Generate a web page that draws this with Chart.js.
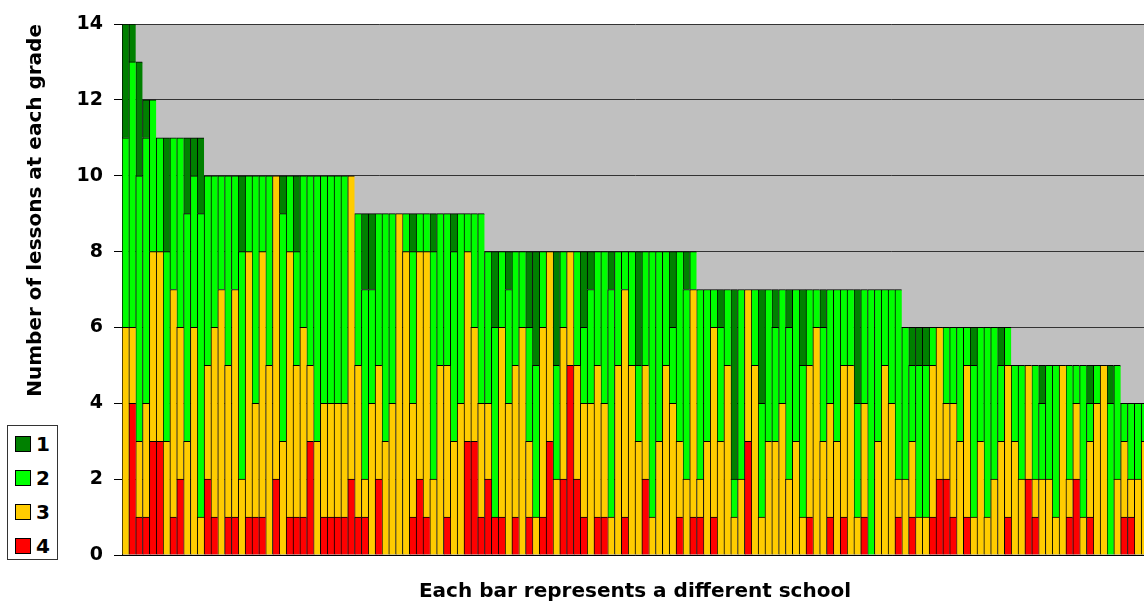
<!DOCTYPE html>
<html>
<head>
<meta charset="utf-8">
<script src="https://cdn.jsdelivr.net/npm/chart.js@4"></script>
<style>
  html, body { margin: 0; padding: 0; background: #fff; overflow: hidden; }
  #wrap { position: relative; width: 1150px; height: 604px; }
  #chart { display: block; }
  #legend {
    position: absolute; left: 7px; top: 425px; width: 51px; height: 135px;
    box-sizing: border-box; border: 1px solid #333; background: #fff;
    padding-top: 1px; font: bold 20px "DejaVu Sans", sans-serif; color: #000;
  }
  .item { height: 34px; display: flex; align-items: center; }
  .swatch { width: 14px; height: 14px; border: 1px solid #000; margin-left: 7px; margin-right: 5px; }
</style>
</head>
<body>
<div id="wrap">
  <canvas id="chart" width="1150" height="604"></canvas>
  <div id="legend"></div>
</div>
<script>
// lessons per school, by grade (1 = best). schools sorted by total
const grade1 = [
  3,1,3,1,0,0,3,0,0,2, 1,2,0,0,0,0,0,2,0,0, 0,0,0,1,0,2,0,0,0,0,
  0,0,0,0,0,2,2,0,0,0, 0,0,1,0,0,1,0,0,1,0, 0,0,0,0,2,0,1,0,0,2,
  3,0,0,3,0,0,0,2,1,0, 0,1,0,0,0,3,0,0,0,0, 2,0,1,0,0,0,0,1,0,5,
  0,0,0,3,0,1,0,1,0,2, 0,0,1,0,0,0,0,3,0,0, 0,0,0,0,0,1,1,1,0,0,
  0,0,0,0,1,0,0,0,1,0, 0,0,0,0,1,0,0,0,0,0, 0,1,0,0,1,0,0,0,0,0
];
const grade2 = [
  5,7,7,7,4,3,5,4,5,6, 4,8,5,4,3,5,3,6,2,6, 2,5,0,6,2,3,4,5,7,6,
  6,6,6,0,4,5,3,4,6,5, 0,1,4,1,1,6,4,4,5,5, 1,3,5,4,5,2,3,3,2,3,
  4,2,0,3,2,0,3,2,3,3, 4,6,3,1,3,2,3,7,5,3, 2,5,5,1,5,4,1,3,2,1,
  5,0,2,3,4,3,3,4,4,4, 2,1,3,3,4,2,2,3,3,7, 4,2,3,5,4,2,4,4,1,0,
  2,2,3,1,4,3,5,4,2,1, 2,3,0,3,2,3,4,0,3,1, 4,1,1,0,4,3,1,2,2,1
];
const grade3 = [
  6,2,2,3,5,5,3,6,4,3, 6,1,3,5,7,4,6,2,7,3, 7,5,8,3,7,4,5,2,3,3,
  3,3,3,8,4,1,4,3,3,4, 9,8,3,6,7,2,5,4,3,4, 5,3,3,2,0,5,4,4,6,2,
  1,5,5,2,4,3,3,3,4,4, 3,1,5,6,5,3,3,1,3,5, 4,2,2,6,1,3,5,3,5,1,
  2,4,5,1,3,3,4,2,3,1, 4,6,3,3,3,4,5,1,3,0, 3,5,4,1,2,2,1,1,4,4,
  2,3,3,4,1,3,1,2,3,4, 3,2,3,1,2,2,1,5,1,2, 1,2,4,5,0,2,2,1,2,3
];
const grade4 = [
  0,4,1,1,3,3,0,1,2,0, 0,0,2,1,0,1,1,0,1,1, 1,0,2,0,1,1,1,3,0,1,
  1,1,1,2,1,1,0,2,0,0, 0,0,1,2,1,0,0,1,0,0, 3,3,1,2,1,1,0,1,0,1,
  0,1,3,0,2,5,2,1,0,1, 1,0,0,1,0,0,2,0,0,0, 0,1,0,1,1,0,1,0,0,0,
  0,3,0,0,0,0,0,0,0,0, 1,0,0,1,0,1,0,0,1,0, 0,0,0,1,0,1,0,0,1,2,
  2,1,0,1,0,0,0,0,0,1, 0,0,2,1,0,0,0,0,1,2, 0,1,0,0,0,0,1,1,0,0
];
const schools = grade1.map((_, i) => "School " + (i + 1));

const FONT = "'DejaVu Sans', Verdana, sans-serif";

// zero segments are left out so they don't draw a stray border
function seg(values) {
  return values.map(v => (v === 0 ? null : v));
}

const plotBg = {
  id: "plotBg",
  beforeDraw(chart) {
    const { ctx, chartArea: a } = chart;
    ctx.save();
    ctx.fillStyle = "#c0c0c0";
    ctx.fillRect(a.left, a.top, a.right - a.left, a.bottom - a.top);
    ctx.restore();
  }
};

const barStyle = {
  borderColor: "#000",
  borderWidth: { top: 1, left: 1, right: 0, bottom: 0 },
  borderSkipped: false,
  barPercentage: 1,
  categoryPercentage: 1
};

const chart = new Chart(document.getElementById("chart"), {
  type: "bar",
  data: {
    labels: schools,
    datasets: [
      { label: "4", data: seg(grade4), backgroundColor: "#ff0000", ...barStyle },
      { label: "3", data: seg(grade3), backgroundColor: "#ffcc00", ...barStyle },
      { label: "2", data: seg(grade2), backgroundColor: "#00ff00", ...barStyle },
      { label: "1", data: seg(grade1), backgroundColor: "#008000", ...barStyle }
    ]
  },
  options: {
    responsive: false,
    animation: false,
    devicePixelRatio: 1,
    layout: { padding: { top: 24, right: 2, bottom: 0, left: 0 } },
    plugins: {
      legend: { display: false },
      tooltip: { enabled: false }
    },
    scales: {
      x: {
        stacked: true,
        ticks: { display: false },
        grid: { display: false },
        border: { color: "#000", width: 1 },
        title: {
          display: true,
          text: "Each bar represents a different school",
          color: "#000",
          font: { family: FONT, size: 20, weight: "bold" },
          padding: { top: 0, bottom: 0 }
        },
        afterFit: s => { s.height = 49; }
      },
      y: {
        stacked: true,
        min: 0,
        max: 14,
        ticks: {
          stepSize: 2,
          color: "#000",
          padding: 11,
          font: { family: FONT, size: 19, weight: "bold" }
        },
        grid: { color: "#333", tickColor: "#000", tickLength: 8 },
        border: { color: "#000", width: 1 },
        title: {
          display: true,
          text: "Number of lessons at each grade",
          align: "end",
          color: "#000",
          font: { family: FONT, size: 20, weight: "bold" },
          padding: { top: 24, bottom: 0 }
        },
        afterFit: s => { s.width = 122; }
      }
    }
  },
  plugins: [plotBg]
});

// legend box, top to bottom 1..4
const legendEl = document.getElementById("legend");
chart.data.datasets.slice().reverse().forEach(ds => {
  const item = document.createElement("div");
  item.className = "item";
  const sw = document.createElement("span");
  sw.className = "swatch";
  sw.style.background = ds.backgroundColor;
  item.appendChild(sw);
  item.appendChild(document.createTextNode(ds.label));
  legendEl.appendChild(item);
});
</script>
</body>
</html>
